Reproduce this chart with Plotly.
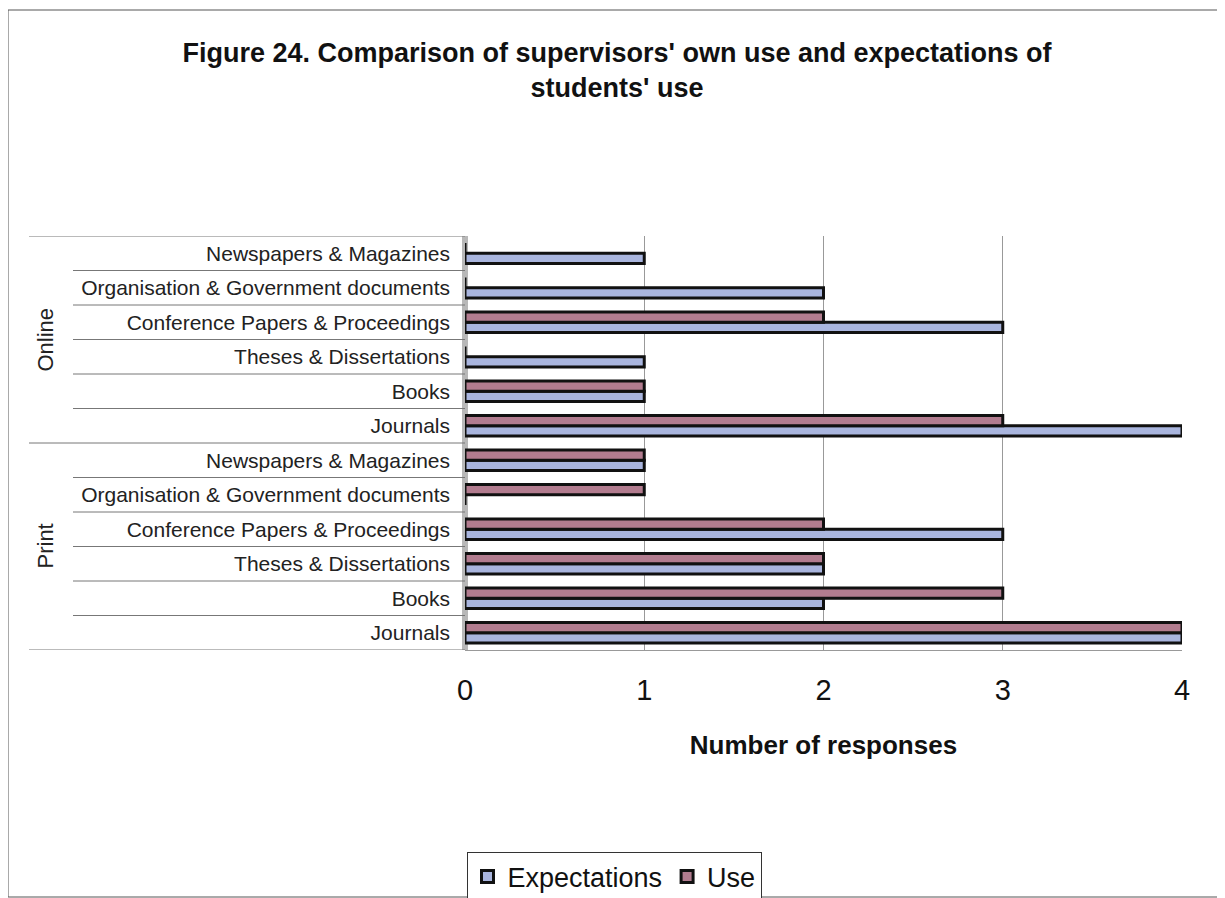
import plotly.graph_objects as go

categories = ["Journals", "Books", "Theses & Dissertations", "Conference Papers & Proceedings",
              "Organisation & Government documents", "Newspapers & Magazines"]
groups = ["Print", "Online"]
# bottom-to-top order: Print block then Online block
expectations_print = [4, 2, 2, 3, 0, 1]
use_print = [4, 3, 2, 2, 1, 1]
expectations_online = [4, 1, 1, 3, 2, 1]
use_online = [3, 1, 0, 2, 0, 0]
x_ticks = [0, 1, 2, 3, 4]

labels = categories + categories
ypos = list(range(len(labels)))
expectations = expectations_print + expectations_online
use = use_print + use_online

fig = go.Figure()
fig.add_trace(go.Bar(y=ypos, x=expectations, orientation="h", name="Expectations",
                     marker=dict(color="#a9b5de", line=dict(color="#111111", width=3))))
fig.add_trace(go.Bar(y=ypos, x=use, orientation="h", name="Use",
                     marker=dict(color="#b27c8f", line=dict(color="#111111", width=3))))

OFF = 8  # page body margin
W, H = 1225 - OFF, 898 - OFF
L = 465 - OFF
T = 236 - OFF
R = W - (1182 - OFF)
B = H - (650 - OFF)
pw, ph = W - L - R, H - T - B

def px(x):
    return (x - OFF - L) / pw

def py(y):
    return (H - B - (y - OFF)) / ph

shapes = []
# category separators
for k in range(len(labels) + 1):
    yv = k - 0.5
    x0 = px(29) if k in (0, 6, 12) else px(73)
    shapes.append(dict(type="line", xref="paper", yref="y", x0=x0, x1=0, y0=yv, y1=yv,
                       line=dict(color="#777777", width=1)))
# left wall
shapes.append(dict(type="rect", xref="paper", yref="paper", x0=px(462), x1=px(468), y0=0, y1=1,
                   line=dict(width=0), fillcolor="#b8b8b8", layer="below"))
# outer frame
shapes.append(dict(type="rect", xref="paper", yref="paper", x0=px(8), x1=px(1220), y0=py(897), y1=py(10),
                   line=dict(color="#555555", width=1)))

annotations = [
    dict(text="Online", xref="paper", yref="y", x=px(45), y=8.5, textangle=-90, showarrow=False,
         xanchor="center", yanchor="middle", font=dict(size=22, color="#222222")),
    dict(text="Print", xref="paper", yref="y", x=px(45), y=2.5, textangle=-90, showarrow=False,
         xanchor="center", yanchor="middle", font=dict(size=22, color="#222222")),
]

fig.update_layout(
    width=W, height=H,
    margin=dict(l=L, r=R, t=T, b=B),
    paper_bgcolor="white", plot_bgcolor="white",
    font=dict(family="Liberation Sans, Arial, sans-serif", color="#111111"),
    title=dict(text="<b>Figure 24. Comparison of supervisors' own use and expectations of<br>students' use</b>",
               x=(617 - OFF) / W, xanchor="center", y=1 - (62 - OFF) / H, yanchor="middle", yref="container",
               font=dict(size=27, color="#111111")),
    barmode="group", bargap=0.4, bargroupgap=0.0,
    shapes=shapes, annotations=annotations,
    legend=dict(orientation="h", x=(614 - OFF) / W, xanchor="center", xref="container",
                y=1 - (877 - OFF) / H, yanchor="middle", yref="container",
                bordercolor="#333333", borderwidth=1, bgcolor="white",
                font=dict(size=27, color="#111111"), traceorder="normal",
                itemwidth=30),
)
fig.update_xaxes(range=[0, 4], tickvals=x_ticks, ticktext=[str(v) for v in x_ticks],
                 showgrid=True, gridcolor="#999999", gridwidth=1, zeroline=False,
                 showline=True, linecolor="#999999",
                 tickfont=dict(size=29, color="#111111"), ticks="", ticklabelstandoff=14,
                 title=dict(text="<b>Number of responses</b>", font=dict(size=26, color="#111111"),
                            standoff=31))
fig.update_yaxes(range=[-0.5, 11.5], tickvals=ypos, ticktext=labels, showgrid=False,
                 zeroline=False, showline=False, tickfont=dict(size=21, color="#222222"),
                 ticklabelstandoff=14)

fig.write_html("out.html")
